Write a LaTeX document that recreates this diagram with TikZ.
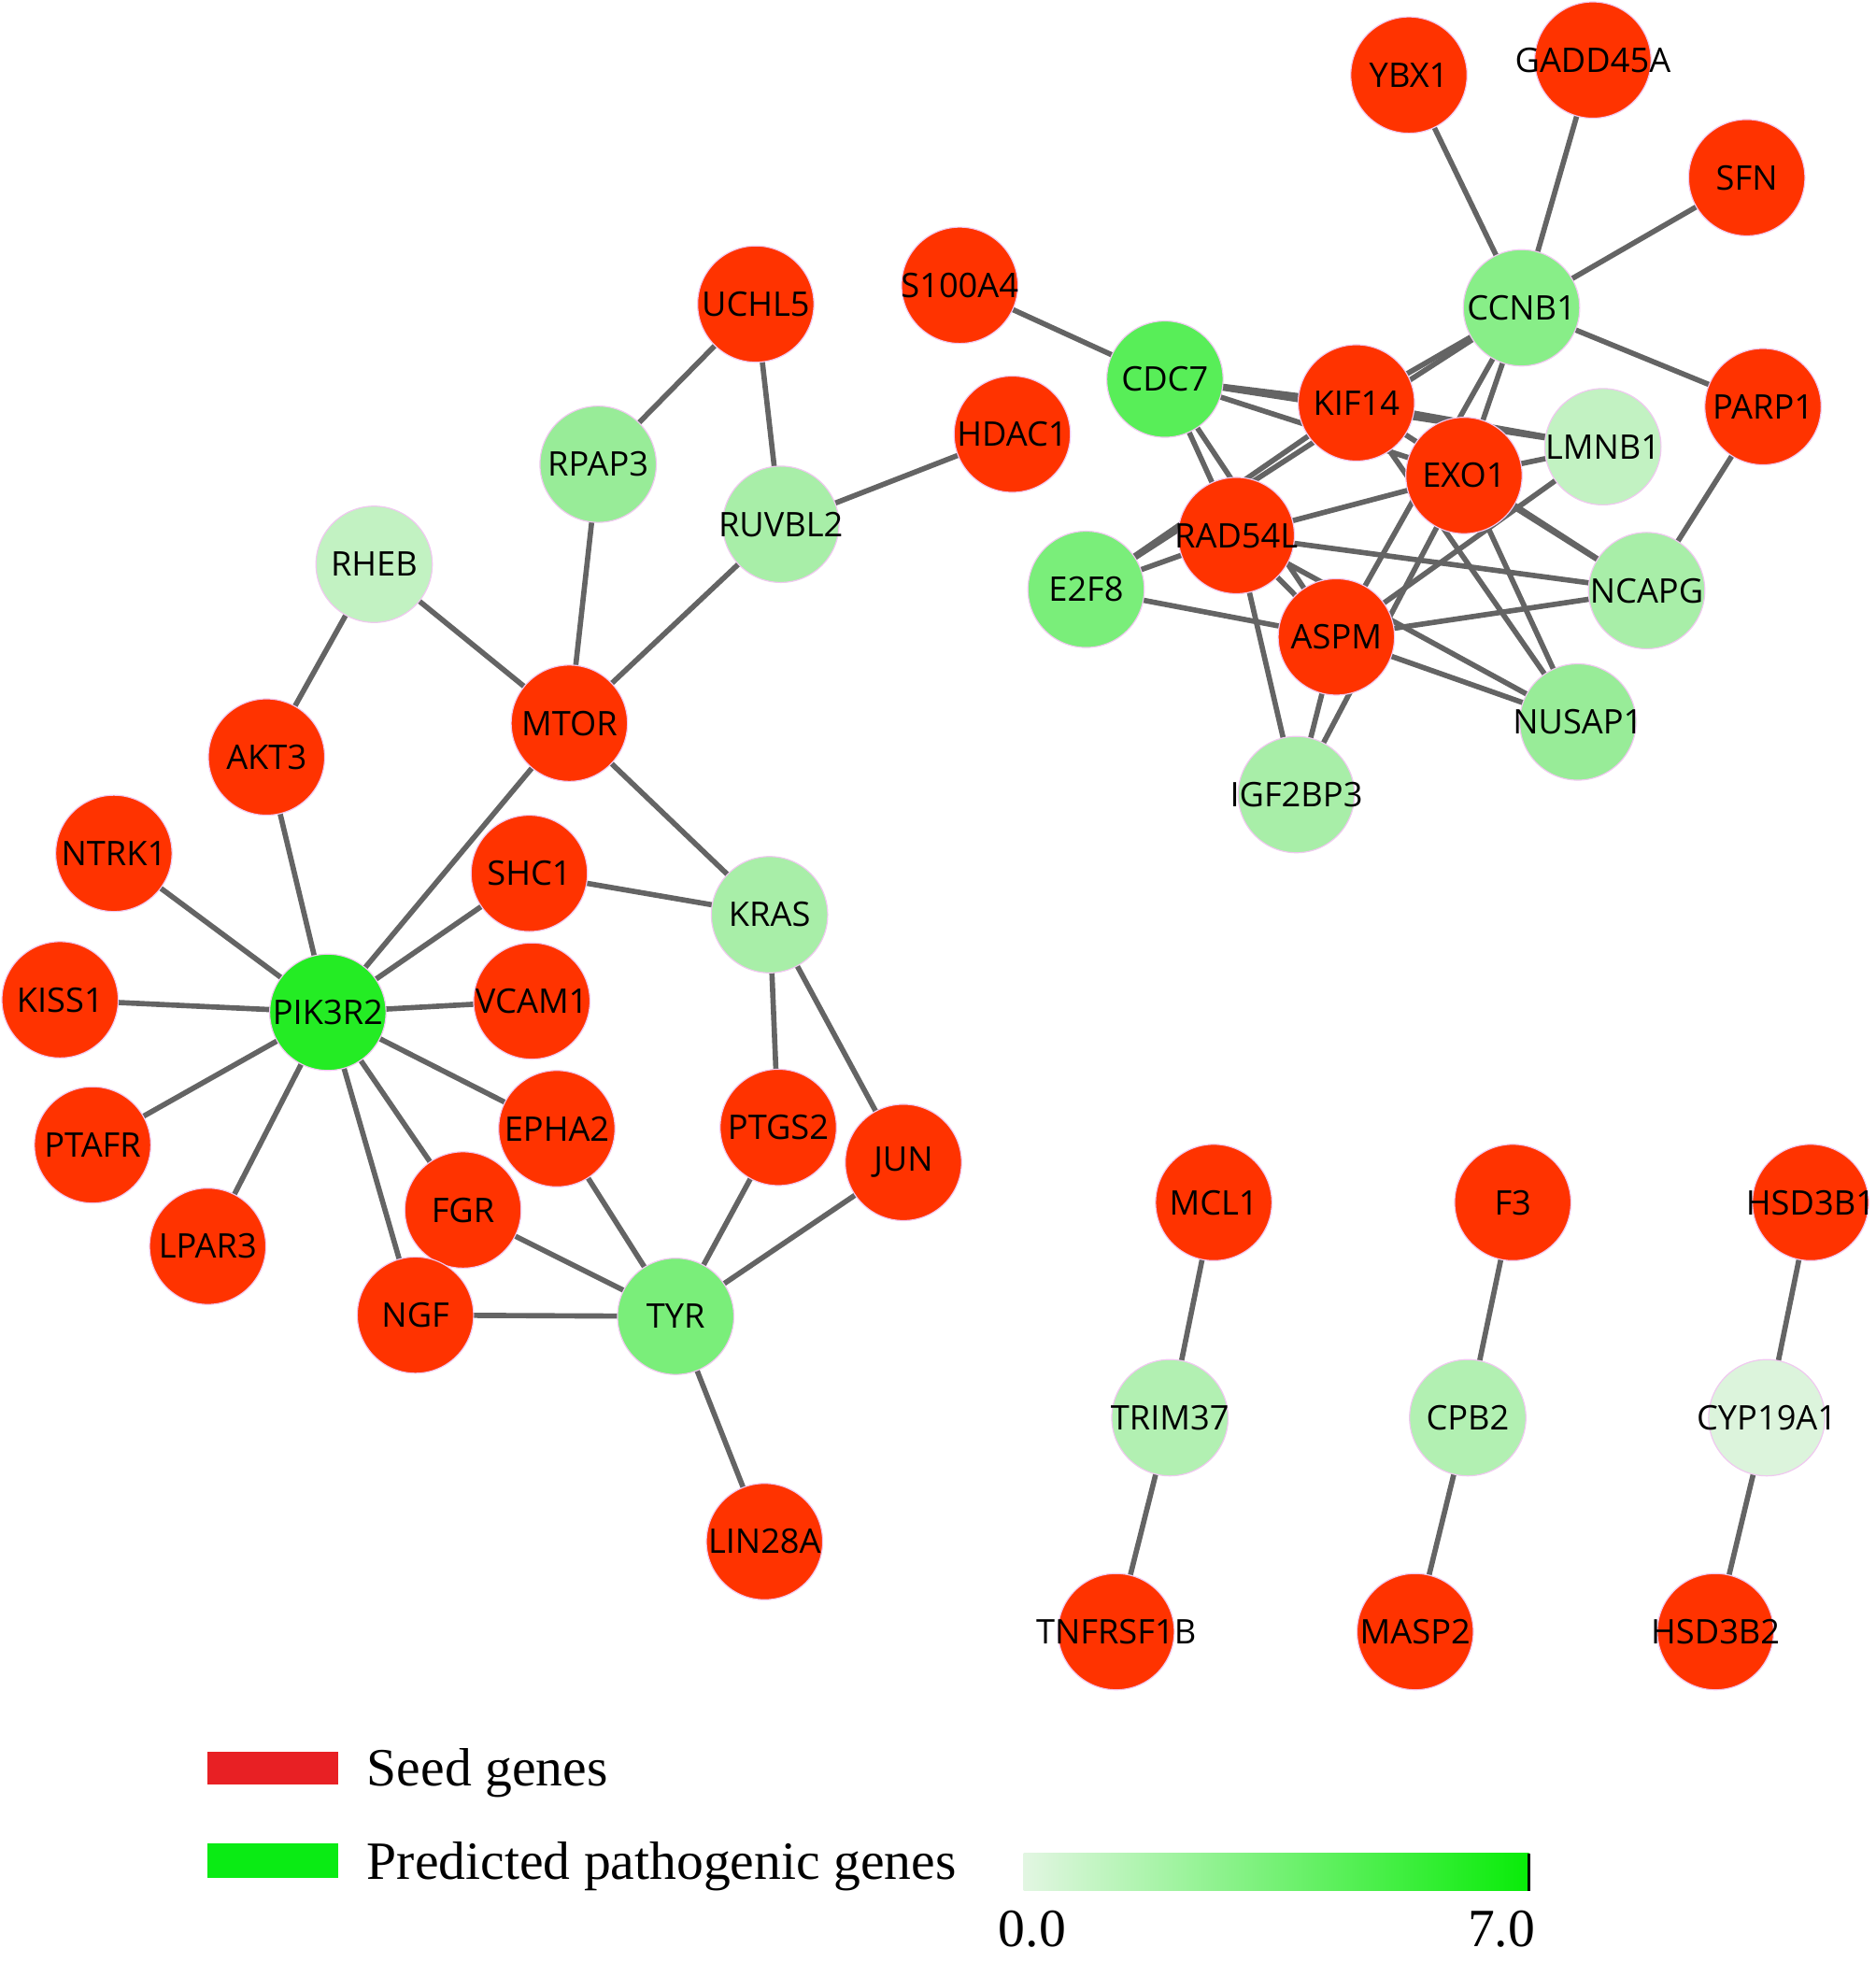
\documentclass[tikz,border=0pt]{standalone}
\usepackage{fontspec}
\setmainfont{Liberation Serif}
\newfontfamily\nodefont{Open Sans}
\usetikzlibrary{backgrounds}
\definecolor{seed}{RGB}{255,51,0}
\definecolor{edgegray}{RGB}{100,100,100}
\definecolor{nodeborder}{RGB}{240,200,240}
\definecolor{legred}{RGB}{232,32,36}
\definecolor{leggreen}{RGB}{10,235,20}
\definecolor{gA}{RGB}{36,236,36}
\definecolor{gB}{RGB}{88,238,88}
\definecolor{gC}{RGB}{122,238,122}
\definecolor{gD}{RGB}{136,238,136}
\definecolor{gE}{RGB}{152,236,152}
\definecolor{gF}{RGB}{168,238,168}
\definecolor{gG}{RGB}{178,240,178}
\definecolor{gH}{RGB}{194,242,194}
\definecolor{gI}{RGB}{220,244,220}
\definecolor{gradlo}{RGB}{226,246,226}
\definecolor{gradhi}{RGB}{8,236,8}
\newcommand\genenode[5]{\node[gnode,fill=#4] (#1) at (#2,#3) {\makebox[0pt]{#5}};}
\begin{document}
\begin{tikzpicture}[x=0.02cm,y=-0.02cm,
  gnode/.style={circle,minimum size=1.86cm,inner sep=0pt,draw=nodeborder,line width=0.5pt,font=\nodefont\fontsize{15.4}{18}\selectfont,text=black},
  edge/.style={draw=edgegray,line width=2.4pt},
  legtext/.style={anchor=base west,inner sep=0pt,font=\fontsize{24.5}{28}\selectfont}]
\useasboundingbox (0,0) rectangle (1499,1568);
% top-right cluster
\genenode{YBX1}{1126}{60}{seed}{YBX1}
\genenode{GADD45A}{1273}{48}{seed}{GADD45A}
\genenode{SFN}{1396}{142}{seed}{SFN}
\genenode{CCNB1}{1216}{246}{gD}{CCNB1}
\genenode{PARP1}{1409}{325}{seed}{PARP1}
\genenode{S100A4}{767}{228}{seed}{S100A4}
\genenode{CDC7}{931}{303}{gB}{CDC7}
\genenode{LMNB1}{1281}{357}{gH}{LMNB1}
\genenode{NCAPG}{1316}{472}{gF}{NCAPG}
\genenode{NUSAP1}{1261}{577}{gE}{NUSAP1}
\genenode{IGF2BP3}{1036}{635}{gF}{IGF2BP3}
\genenode{E2F8}{868}{471}{gC}{E2F8}
\genenode{KIF14}{1084}{322}{seed}{KIF14}
\genenode{EXO1}{1170}{380}{seed}{EXO1}
\genenode{RAD54L}{988}{428}{seed}{RAD54L}
\genenode{ASPM}{1068}{509}{seed}{ASPM}
% left cluster
\genenode{UCHL5}{604}{243}{seed}{UCHL5}
\genenode{RPAP3}{478}{371}{gE}{RPAP3}
\genenode{RUVBL2}{624}{419}{gF}{RUVBL2}
\genenode{HDAC1}{809}{347}{seed}{HDAC1}
\genenode{RHEB}{299}{451}{gH}{RHEB}
\genenode{MTOR}{455}{578}{seed}{MTOR}
\genenode{AKT3}{213}{605}{seed}{AKT3}
\genenode{NTRK1}{91}{682}{seed}{NTRK1}
\genenode{SHC1}{423}{698}{seed}{SHC1}
\genenode{KRAS}{615}{731}{gF}{KRAS}
\genenode{KISS1}{48}{799}{seed}{KISS1}
\genenode{PIK3R2}{262}{809}{gA}{PIK3R2}
\genenode{VCAM1}{425}{800}{seed}{VCAM1}
\genenode{EPHA2}{445}{902}{seed}{EPHA2}
\genenode{PTGS2}{622}{901}{seed}{PTGS2}
\genenode{JUN}{722}{929}{seed}{JUN}
\genenode{PTAFR}{74}{915}{seed}{PTAFR}
\genenode{FGR}{370}{967}{seed}{FGR}
\genenode{LPAR3}{166}{996}{seed}{LPAR3}
\genenode{NGF}{332}{1051}{seed}{NGF}
\genenode{TYR}{540}{1052}{gC}{TYR}
\genenode{LIN28A}{611}{1232}{seed}{LIN28A}
% pairs
\genenode{MCL1}{970}{961}{seed}{MCL1}
\genenode{TRIM37}{935}{1133}{gG}{TRIM37}
\genenode{TNFRSF1B}{892}{1304}{seed}{TNFRSF1B}
\genenode{F3}{1209}{961}{seed}{F3}
\genenode{CPB2}{1173}{1133}{gG}{CPB2}
\genenode{MASP2}{1131}{1304}{seed}{MASP2}
\genenode{HSD3B1}{1447}{961}{seed}{HSD3B1}
\genenode{CYP19A1}{1412}{1133}{gI}{CYP19A1}
\genenode{HSD3B2}{1371}{1304}{seed}{HSD3B2}
\begin{pgfonlayer}{background}
\foreach \a/\b in {CCNB1/YBX1,CCNB1/GADD45A,CCNB1/SFN,CCNB1/PARP1,CCNB1/KIF14,CCNB1/E2F8,CCNB1/EXO1,CCNB1/ASPM,
  S100A4/CDC7,CDC7/KIF14,CDC7/LMNB1,CDC7/EXO1,CDC7/RAD54L,CDC7/ASPM,
  KIF14/E2F8,KIF14/LMNB1,KIF14/NUSAP1,KIF14/NCAPG,
  EXO1/LMNB1,EXO1/NCAPG,EXO1/NUSAP1,EXO1/RAD54L,EXO1/IGF2BP3,
  RAD54L/E2F8,RAD54L/NCAPG,RAD54L/ASPM,RAD54L/NUSAP1,RAD54L/IGF2BP3,
  E2F8/ASPM,ASPM/NCAPG,ASPM/NUSAP1,ASPM/LMNB1,ASPM/IGF2BP3,NCAPG/PARP1,
  UCHL5/RPAP3,UCHL5/RUVBL2,RUVBL2/HDAC1,RUVBL2/MTOR,RPAP3/MTOR,RHEB/MTOR,RHEB/AKT3,
  AKT3/PIK3R2,MTOR/PIK3R2,MTOR/KRAS,NTRK1/PIK3R2,SHC1/PIK3R2,SHC1/KRAS,KISS1/PIK3R2,
  VCAM1/PIK3R2,PTAFR/PIK3R2,LPAR3/PIK3R2,EPHA2/PIK3R2,FGR/PIK3R2,NGF/PIK3R2,
  KRAS/PTGS2,KRAS/JUN,EPHA2/TYR,FGR/TYR,NGF/TYR,PTGS2/TYR,JUN/TYR,TYR/LIN28A,
  MCL1/TRIM37,TRIM37/TNFRSF1B,F3/CPB2,CPB2/MASP2,HSD3B1/CYP19A1,CYP19A1/HSD3B2}
  \draw[edge] (\a.center) -- (\b.center);
\end{pgfonlayer}
% legend
\node[rectangle,fill=legred,minimum width=2.08cm,minimum height=0.52cm,inner sep=0pt] (legseed) at (218,1413) {};
\node[legtext] (legseedtxt) at (293,1427) {Seed genes};
\node[rectangle,fill=leggreen,minimum width=2.08cm,minimum height=0.54cm,inner sep=0pt] (legpred) at (218,1487) {};
\node[legtext] (legpredtxt) at (293,1502) {Predicted pathogenic genes};
\shade[left color=gradlo,right color=gradhi] (818,1481) rectangle (1222,1511);
\draw[line width=1.2pt,black] (1222,1481) -- (1222,1511);
\node[anchor=base,inner sep=0pt,font=\fontsize{24.5}{28}\selectfont] (lab0) at (825,1556) {0.0};
\node[anchor=base,inner sep=0pt,font=\fontsize{24.5}{28}\selectfont] (lab7) at (1200,1556) {7.0};
\end{tikzpicture}
\end{document}
